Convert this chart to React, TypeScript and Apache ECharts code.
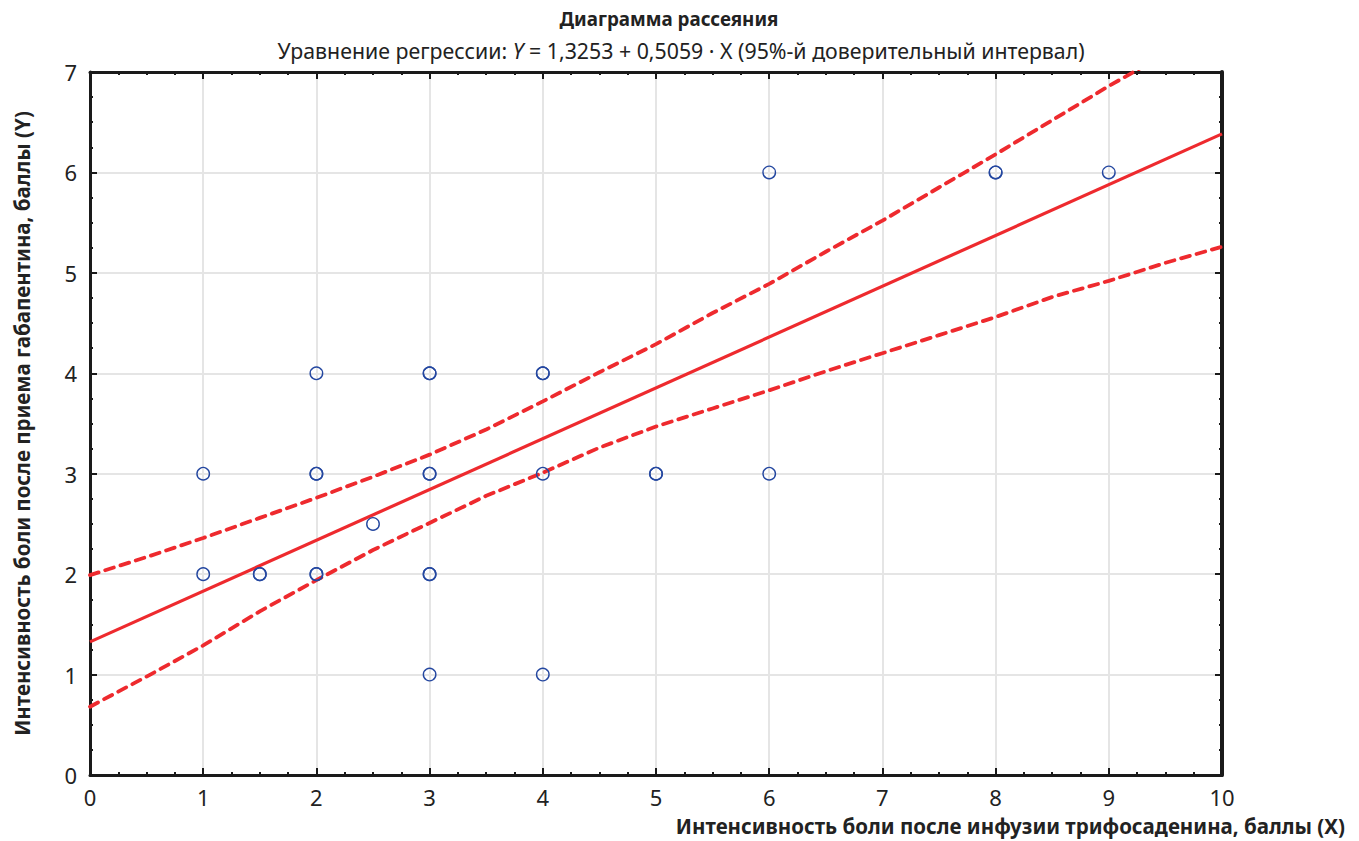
import React, { useEffect, useRef } from "react";
import * as echarts from "echarts";

const titleText = "Диаграмма рассеяния";
const xName = "Интенсивность боли после инфузии трифосаденина, баллы (X)";
const yName = "Интенсивность боли после приема габапентина, баллы (Y)";

// observed points (duplicates = overlapping observations)
const pointsX = [1, 1, 1.5, 1.5, 2, 2, 2, 2, 2, 2.5, 3, 3, 3, 3, 3, 3, 3, 4, 4, 4, 4, 5, 5, 6, 6, 8, 8, 9];
const pointsY = [3, 2, 2, 2, 4, 3, 3, 2, 2, 2.5, 4, 4, 3, 3, 2, 2, 1, 4, 4, 3, 1, 3, 3, 6, 3, 6, 6, 6];

const intercept = 1.3253;
const slope = 0.5059;
const lineX = [0, 10];
const lineY = [1.3253, 6.384];

const bandX = [0, 0.5, 1, 1.5, 2, 2.5, 3, 3.5, 4, 4.5, 5, 5.5, 6, 6.5, 7, 7.5, 8, 8.5, 9, 9.5, 10];
const upperY = [1.99, 2.17, 2.36, 2.56, 2.76, 2.97, 3.19, 3.44, 3.72, 4.01, 4.29, 4.6, 4.89, 5.21, 5.52, 5.85, 6.18, 6.52, 6.86, 7.18, 7.5];
const lowerY = [0.68, 0.98, 1.29, 1.63, 1.94, 2.24, 2.51, 2.78, 3.01, 3.26, 3.47, 3.65, 3.83, 4.02, 4.2, 4.38, 4.56, 4.76, 4.92, 5.1, 5.26];

const FONT = "Noto Sans";

export default function App() {
  const ref = useRef<HTMLDivElement>(null);
  useEffect(() => {
    if (!ref.current) return;
    const chart = echarts.init(ref.current, undefined, { renderer: "svg" });
    const zip = (xs: number[], ys: number[]) => xs.map((x, i) => [x, ys[i]]);
    const baseAxisLine = { show: true, lineStyle: { color: "#1a1a1a", width: 3 } };
    const tick = { show: true, inside: true, length: 7, lineStyle: { color: "#1a1a1a", width: 2 } };
    const minor = { show: true, splitNumber: 4, length: 3, lineStyle: { color: "#1a1a1a", width: 2 } };
    const dash = { color: "#ee2a2e", width: 3.8, type: [9, 7], cap: "round" };
    chart.setOption({
      animation: false,
      backgroundColor: "#fff",
      textStyle: { fontFamily: FONT },
      title: [
        {
          text: titleText,
          left: 664,
          textAlign: "center",
          top: 4,
          textStyle: { fontFamily: FONT, fontSize: 18.8, fontWeight: "bold", color: "#222" },
        },
        {
          text: "{n|Уравнение регрессии: }{i|Y}{n| = " +
            intercept.toString().replace(".", ",") + " + " + slope.toString().replace(".", ",") +
            " · X (95%-й доверительный интервал)}",
          left: 676,
          textAlign: "center",
          top: 35,
          textStyle: {
            fontWeight: "normal",
            rich: {
              n: { fontFamily: FONT, fontSize: 21.3, color: "#222", fontWeight: "normal" },
              i: { fontFamily: FONT, fontSize: 21.3, color: "#222", fontStyle: "italic", fontWeight: "normal" },
            },
          },
        },
      ],
      grid: { left: 90, right: 137, top: 72, bottom: 66, containLabel: false },
      xAxis: [
        {
          type: "value",
          min: 0,
          max: 10,
          interval: 1,
          position: "bottom",
          name: xName,
          nameLocation: "end",
          nameGap: 0,
          nameTextStyle: {
            fontFamily: FONT,
            fontSize: 20.5,
            fontWeight: "bold",
            color: "#222",
            align: "right",
            verticalAlign: "top",
            padding: [40, -123, 0, 0],
          },
          axisLine: { ...baseAxisLine, onZero: false },
          axisTick: tick,
          minorTick: minor,
          axisLabel: { fontFamily: FONT, fontSize: 22, color: "#222", margin: 11 },
          splitLine: { show: true, lineStyle: { color: "#e5e5e5", width: 2 } },
        },
        {
          type: "value",
          min: 0,
          max: 10,
          interval: 1,
          position: "top",
          axisLine: { ...baseAxisLine, onZero: false },
          axisTick: tick,
          minorTick: minor,
          axisLabel: { show: false },
          splitLine: { show: false },
        },
      ],
      yAxis: [
        {
          type: "value",
          min: 0,
          max: 7,
          interval: 1,
          position: "left",
          name: yName,
          nameLocation: "middle",
          nameGap: 58,
          nameTextStyle: { fontFamily: FONT, fontSize: 20.5, fontWeight: "bold", color: "#222" },
          axisLine: { ...baseAxisLine, onZero: false },
          axisTick: tick,
          minorTick: minor,
          axisLabel: { fontFamily: FONT, fontSize: 22, color: "#222", margin: 13 },
          splitLine: { show: true, lineStyle: { color: "#e5e5e5", width: 2 } },
        },
        {
          type: "value",
          min: 0,
          max: 7,
          interval: 1,
          position: "right",
          axisLine: { show: true, onZero: false, lineStyle: { color: "#1a1a1a", width: 4 } },
          axisTick: tick,
          minorTick: minor,
          axisLabel: { show: false },
          splitLine: { show: false },
        },
      ],
      series: [
        {
          type: "line",
          data: zip(bandX, upperY),
          showSymbol: false,
          clip: true,
          lineStyle: dash,
          z: 3,
        },
        {
          type: "line",
          data: zip(bandX, lowerY),
          showSymbol: false,
          clip: true,
          lineStyle: dash,
          z: 3,
        },
        {
          type: "line",
          data: zip(lineX, lineY),
          showSymbol: false,
          clip: true,
          lineStyle: { color: "#ee2a2e", width: 3.2 },
          z: 3,
        },
        {
          type: "scatter",
          data: zip(pointsX, pointsY),
          symbol: "circle",
          symbolSize: 12.5,
          itemStyle: { color: "rgba(255,255,255,0)", borderColor: "#2447a0", borderWidth: 1.4, opacity: 1 },
          z: 4,
        },
      ],
    });
    return () => chart.dispose();
  }, []);
  return <div ref={ref} style={{ width: 1359, height: 841, position: "absolute", left: 0, top: 0 }} />;
}
